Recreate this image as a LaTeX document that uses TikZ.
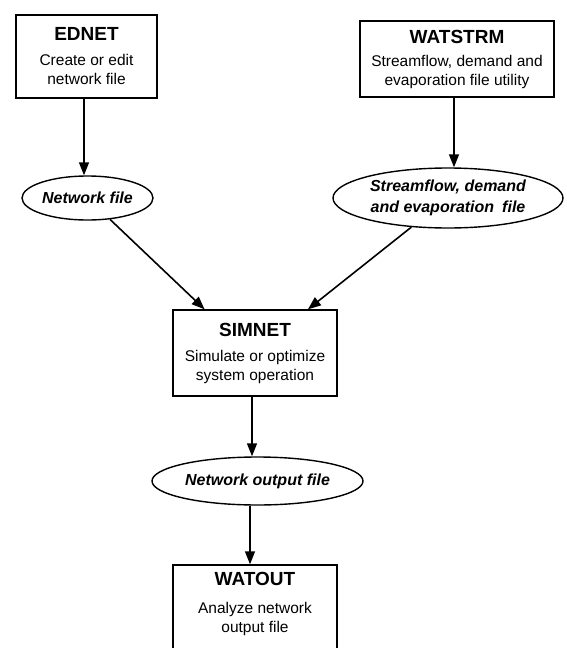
\documentclass[tikz,border=0pt]{standalone}
\usepackage{fontspec}
\setmainfont{Liberation Sans}
\usetikzlibrary{arrows.meta,calc,shapes.geometric}
\tikzset{
  prog/.style={draw, line width=1.4pt, minimum width=#1, align=center, inner sep=0pt,
    font=\fontsize{15.5}{19}\selectfont},
  datafile/.style={draw, ellipse, line width=1.4pt, inner sep=0pt, align=center,
    font=\fontsize{16}{21}\selectfont\bfseries\itshape},
  flow/.style={line width=1.6pt, -{Triangle[length=13pt,width=10pt]}},
}
\newcommand{\ttl}[1]{{\fontsize{19}{19}\selectfont\bfseries #1}}
\begin{document}
\begin{tikzpicture}[x=1pt,y=-1pt]
\useasboundingbox (0,0) rectangle (566,648);
\clip (0,0) rectangle (566,648);
% programs
\node[prog=141pt, minimum height=83pt] (ednet) at (86.5,56.5)
  {\ttl{EDNET}\\[6pt]Create or edit\\network file};
\node[prog=194pt, minimum height=76pt] (watstrm) at (457,59)
  {\ttl{WATSTRM}\\[4pt]Streamflow, demand and\\evaporation file utility};
\node[prog=164pt, minimum height=86pt] (simnet) at (255,353)
  {\ttl{SIMNET}\\[6pt]Simulate or optimize\\system operation};
\node[prog=164pt, minimum height=87pt] (watout) at (255,608.5)
  {\ttl{WATOUT}\\[9pt]Analyze network\\output file\rule[-12pt]{0pt}{12pt}};
% data files
\node[datafile, minimum width=131pt, minimum height=44pt] (netfile) at (87.5,198) {Network file};
\node[datafile, minimum width=230pt, minimum height=60pt] (stream) at (448,198)
  {Streamflow, demand\\and evaporation\enspace file};
\node[datafile, minimum width=211pt, minimum height=48pt] (outfile) at (257.5,481)
  {Network output file};
% connectors
\draw[flow] ($(ednet.south)+(-2.5,0)$) -- ($(ednet.south |- netfile.north)+(-2.5,0)$);
\draw[flow] ($(watstrm.south)+(-3,0)$) -- ($(watstrm.south |- stream.north)+(-3,0)$);
\draw[flow] (netfile) -- ($(simnet.north west)!0.195!(simnet.north east)$);
\draw[flow] (stream) -- ($(simnet.north west)!0.82!(simnet.north east)$);
\draw[flow] ($(simnet.south)+(-3,0)$) -- ($(simnet.south |- outfile.north)+(-3,0)$);
\draw[flow] ($(outfile.south)+(-7.5,0)$) -- ($(outfile.south |- watout.north)+(-7.5,0)$);
\end{tikzpicture}
\end{document}
